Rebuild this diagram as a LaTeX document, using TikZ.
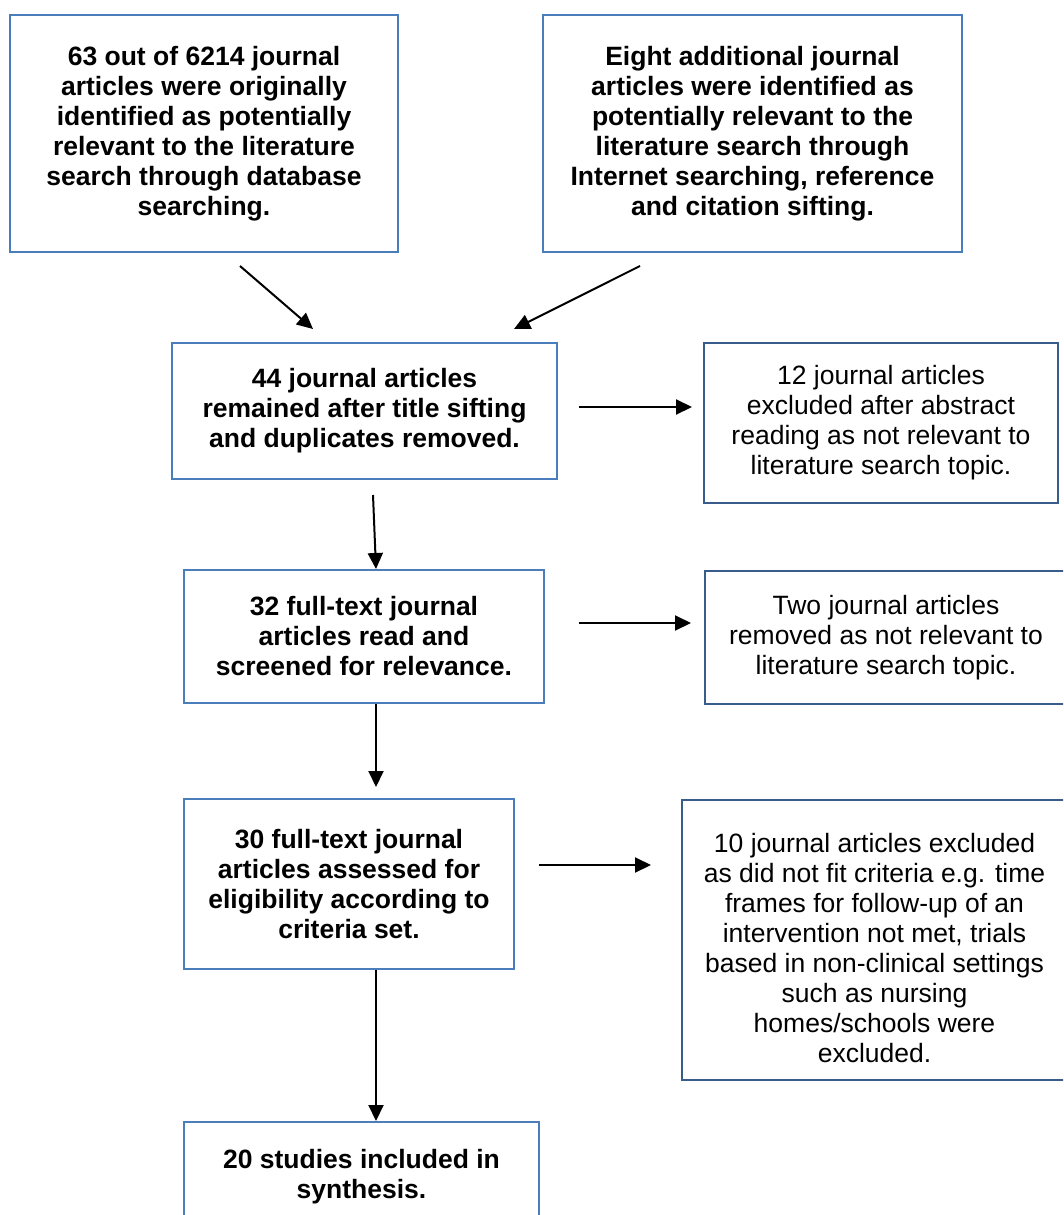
\documentclass[tikz,border=0pt]{standalone}
\usepackage{fontspec}
\setmainfont{Liberation Sans}
\usetikzlibrary{calc,arrows.meta}

\definecolor{boxblue}{HTML}{4A7EBB}
\definecolor{boxnavy}{HTML}{385D8A}

\tikzset{
  box/.style={draw, line width=2pt, inner sep=0pt, anchor=north west,
    align=center, font=\fontsize{26.5}{30}\selectfont},
  mainbox/.style={box, draw=boxblue, font=\fontsize{26.5}{30}\selectfont\bfseries},
  sidebox/.style={box, draw=boxnavy},
  arr/.style={line width=2pt, -{Triangle[length=16pt,width=15pt]}},
}

% box given by its top-left corner and its size
\newcommand{\flowbox}[6]{%
  \node[#1, minimum width=#4pt, minimum height=#5pt] (#2) at (#3) {#6};}

\begin{document}
\begin{tikzpicture}[x=1pt,y=-1pt]
\useasboundingbox (0,0) rectangle (1063,1215);
\clip (0,0) rectangle (1063,1215);

\flowbox{mainbox}{b1}{9,14}{388}{237}{63 out of 6214 journal\\articles were originally\\identified as potentially\\relevant to the literature\\search through database\\searching.}
\flowbox{mainbox}{b2}{542,14}{419}{237}{Eight additional journal\\articles were identified as\\potentially relevant to the\\literature search through\\Internet searching, reference\\and citation sifting.}
\flowbox{mainbox}{b3}{171,342}{385}{136}{44 journal articles\\remained after title sifting\\and duplicates removed.}
\flowbox{sidebox}{b4}{703,342}{354}{160}{12 journal articles\\excluded after abstract\\reading as not relevant to\\literature search topic.}
\flowbox{mainbox}{b5}{183,569}{360}{133}{32 full-text journal\\articles read and\\screened for relevance.}
\flowbox{sidebox}{b6}{704,570}{362}{133}{Two journal articles\\removed as not relevant to\\literature search topic.}
\flowbox{mainbox}{b7}{183,798}{330}{170}{30 full-text journal\\articles assessed for\\eligibility according to\\criteria set.}
\flowbox{sidebox, text height=245pt}{b8}{681,799}{385}{280}{10 journal articles excluded\\as did not fit criteria e.g. time\\frames for follow-up of an\\intervention not met, trials\\based in non-clinical settings\\such as nursing\\homes/schools were\\excluded.}
\flowbox{mainbox}{b9}{183,1121}{355}{110}{20 studies included in\\synthesis.}

% connectors
\draw[arr] ($(b1.south)+(36,13)$) -- ($(b3.north)+(-51.5,-13)$);
\draw[arr] ($(b2.south)+(-112.5,13)$) -- ($(b3.north)+(149.5,-13)$);
\draw[arr] ($(b3.east)+(21,-4)$) coordinate (s3) -- ($(s3 -| b4.west)+(-11,0)$);
\draw[arr] ($(b3.south)+(8.5,15)$) -- ($(b5.north)+(12,0)$);
\draw[arr] ($(b5.east)+(34,-13.5)$) coordinate (s5) -- ($(s5 -| b6.west)+(-13,0)$);
\draw[arr] ($(b5.south)+(12,0)$) coordinate (d5) -- ($(d5 |- b7.north)+(0,-11)$);
\draw[arr] ($(b7.east)+(24,-19)$) coordinate (s7) -- ($(s7 -| b8.west)+(-30,0)$);
\draw[arr] ($(b7.south)+(27,0)$) coordinate (d7) -- (d7 |- b9.north);
\end{tikzpicture}
\end{document}
